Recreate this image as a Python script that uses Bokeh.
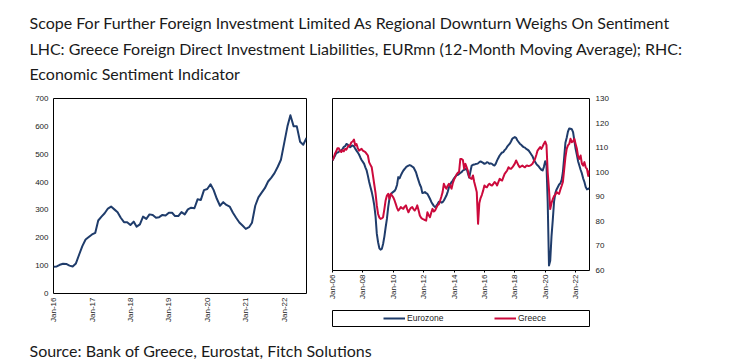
import math
import pandas as pd
from bokeh.plotting import figure
from bokeh.models import (Range1d, FixedTicker, DatetimeTickFormatter, Legend,
                          LegendItem, ColumnDataSource)
from bokeh.layouts import column, row
from bokeh.embed import file_html
from bokeh.resources import INLINE
from bokeh.core.properties import value

# ---------------- data ----------------
title_lines = [
    "Scope For Further Foreign Investment Limited As Regional Downturn Weighs On Sentiment",
    "LHC: Greece Foreign Direct Investment Liabilities, EURmn (12-Month Moving Average); RHC:",
    "Economic Sentiment Indicator",
]
source_line = ["Source: Bank of Greece, Eurostat, Fitch Solutions"]

fdi_start = "2016-01-01"
fdi_eurmn = [
    96, 97, 103, 107, 106, 100, 97, 108, 140, 170, 194, 203,          # 2016
    212, 218, 262, 276, 288, 305, 312, 302, 292, 272, 256, 256,       # 2017
    246, 258, 240, 248, 276, 268, 284, 282, 272, 274, 282, 280,       # 2018
    290, 290, 278, 278, 292, 284, 302, 308, 306, 338, 336, 371,       # 2019
    375, 392, 372, 340, 315, 328, 318, 312, 290, 272, 255, 244,       # 2020
    232, 238, 254, 315, 345, 362, 378, 402, 416, 432, 455, 480,       # 2021
    540, 600, 640, 600, 600, 545, 534, 558,                           # 2022
]

esi_start = "2006-01-01"
eurozone = [
    104.8, 105.8, 106.7, 107.8, 108.0, 108.3, 108.8, 108.9, 109.5, 110.3, 110.6, 111.5,
    111.2, 110.6, 110.2, 110.6, 110.9, 110.5, 109.6, 108.8, 108.0, 107.2, 106.0, 105.0,
    104.2, 103.4, 102.0, 100.7, 98.5, 96.0, 94.0, 92.0, 89.5, 86.5, 82.0, 75.0,
    71.5, 69.0, 68.5, 68.8, 70.8, 73.8, 77.5, 81.0, 85.8, 89.2, 91.0, 91.6,
    92.0, 92.4, 93.2, 94.8, 98.0, 97.5, 98.7, 99.8, 100.7, 101.3, 102.0, 102.4,
    102.7, 102.9, 102.7, 102.3, 102.0, 101.0, 100.0, 98.2, 96.6, 95.0, 93.9, 91.5,
    91.6, 91.9, 91.5, 91.2, 90.2, 89.2, 88.0, 87.1, 86.3, 85.8, 86.3, 87.1,
    88.0, 88.1, 87.6, 87.8, 88.5, 89.5, 90.5, 92.0, 93.9, 95.0, 96.0, 96.6,
    97.5, 98.2, 98.7, 98.9, 99.3, 99.7, 100.0, 100.7, 101.0, 101.2, 101.4, 99.5,
    97.8, 100.5, 102.7, 103.0, 103.1, 103.3, 103.4, 103.6, 104.1, 104.4, 104.1, 103.8,
    103.4, 103.6, 104.1, 103.9, 103.4, 103.6, 103.4, 102.9, 102.7, 103.5, 104.8, 105.8,
    106.8, 107.5, 108.0, 108.2, 109.0, 109.5, 110.4, 111.0, 111.6, 112.5, 113.6, 114.0,
    114.3, 114.0, 113.0, 112.3, 111.6, 111.2, 110.6, 110.2, 110.0, 109.5, 109.2, 108.8,
    108.0, 107.2, 106.5, 105.2, 104.3, 103.4, 102.8, 102.3, 101.6, 101.0, 100.7, 102.2,
    104.5, 103.0, 88.0, 62.0, 64.0, 74.0, 80.5, 88.0, 91.5, 93.0, 94.0, 95.0,
    95.5, 97.0, 100.0, 106.0, 112.0, 114.0, 116.5, 117.8, 117.7, 117.5, 116.3, 113.0,
    109.5, 107.0, 104.5, 102.7, 101.0, 99.5, 97.5, 96.0, 94.0, 93.0, 93.2, 93.6,
]
greece = [
    104.8, 106.0, 107.5, 108.5, 109.8, 109.8, 108.6, 108.2, 109.0, 108.5, 109.5, 109.2,
    110.2, 110.9, 111.0, 112.2, 112.5, 113.3, 110.9, 111.5, 109.8, 108.8, 109.2, 109.5,
    108.8, 108.5, 108.2, 107.5, 106.8, 104.0, 103.0, 102.0, 98.5, 95.0, 91.5, 86.5,
    83.0, 81.5, 81.0, 81.2, 81.7, 85.0, 88.5, 90.5, 91.2, 89.2, 91.2, 90.5,
    89.8, 88.5, 87.1, 85.5, 84.4, 85.0, 85.8, 85.4, 85.1, 86.0, 86.5, 85.0,
    83.7, 84.8, 85.5, 85.8, 85.0, 84.4, 85.2, 86.5, 84.5, 82.4, 81.5, 81.0,
    80.8, 80.5, 80.3, 83.7, 82.5, 81.7, 83.5, 85.1, 84.0, 84.4, 85.5, 86.5,
    87.0, 88.5, 90.0, 91.9, 95.3, 94.0, 93.3, 94.5, 95.3, 94.5, 93.3, 95.5,
    97.0, 98.0, 99.0, 99.8, 100.0, 105.4, 105.4, 105.0, 101.4, 103.4, 102.0, 100.5,
    98.0, 97.5, 97.3, 98.7, 96.0, 94.0, 91.9, 79.0, 87.5, 89.5, 90.8, 92.5,
    94.6, 94.0, 93.9, 94.8, 95.3, 94.8, 94.6, 95.2, 96.0, 95.5, 94.6, 96.0,
    97.3, 96.8, 96.6, 98.0, 99.3, 100.0, 100.7, 102.0, 101.5, 101.4, 102.0, 102.7,
    103.5, 104.8, 103.8, 102.7, 102.0, 102.4, 102.7, 102.3, 102.0, 102.6, 102.7, 102.5,
    102.7, 103.0, 103.4, 104.5, 105.4, 107.0, 108.8, 109.5, 110.2, 109.5, 110.5, 111.6,
    112.5, 111.0, 100.0, 93.0, 85.0, 87.5, 89.0, 90.3, 90.8, 91.9, 91.5, 91.2,
    93.0, 94.5, 96.0, 101.0, 106.0, 109.5, 110.9, 111.5, 113.6, 112.2, 112.5, 113.6,
    111.5, 109.5, 106.5, 105.4, 106.8, 103.5, 102.7, 104.1, 102.0, 101.4, 98.5, 100.7,
]
series_names = ["Eurozone", "Greece"]

left_x_ticks = ["2016-01-01", "2017-01-01", "2018-01-01", "2019-01-01",
                "2020-01-01", "2021-01-01", "2022-01-01"]
right_x_ticks = ["2006-01-01", "2008-01-01", "2010-01-01", "2012-01-01",
                 "2014-01-01", "2016-01-01", "2018-01-01", "2020-01-01", "2022-01-01"]
left_y_ticks = [0, 100, 200, 300, 400, 500, 600, 700]
right_y_ticks = [60, 70, 80, 90, 100, 110, 120, 130]

# ---------------- styling ----------------
NAVY = "#1f3c6b"
RED = "#cc0a3c"
TICK_FONT = "Liberation Sans"
TICK_SIZE = "8px"
TEXT_COLOR = "#1a1a1a"


def ms(d):
    return pd.Timestamp(d).value // 10**6


fdi_dates = pd.date_range(fdi_start, periods=len(fdi_eurmn), freq="MS")
esi_dates = pd.date_range(esi_start, periods=len(eurozone), freq="MS")

fmt = DatetimeTickFormatter(
    years="%b-%y", months="%b-%y", days="%b-%y", hours="%b-%y",
    hourmin="%b-%y", minutes="%b-%y", minsec="%b-%y", seconds="%b-%y",
    milliseconds="%b-%y", microseconds="%b-%y",
)


def style_axis(ax):
    ax.axis_line_color = None
    ax.major_tick_in = 0
    ax.minor_tick_in = 0
    ax.minor_tick_out = 0
    ax.major_label_text_font = TICK_FONT
    ax.major_label_text_font_size = TICK_SIZE
    ax.major_label_text_color = TEXT_COLOR


def text_figure(width, height):
    f = figure(width=width, height=height, title=None,
               x_range=Range1d(0, width), y_range=Range1d(height, 0),
               x_axis_type=None, y_axis_type=None, min_border=0,
               toolbar_location=None, output_backend="svg")
    f.outline_line_color = None
    return f


# ---------------- title ----------------
title_fig = text_figure(746, 90)
title_src = ColumnDataSource(dict(x=[29, 29, 29], y=[22, 48, 73], text=title_lines))
title_fig.text(x="x", y="y", text="text", source=title_src,
               text_font=value("Lato"), text_font_size=value("16px"),
               text_color=TEXT_COLOR, text_baseline="alphabetic", text_align="left")

# ---------------- left chart ----------------
left = figure(width=318, height=243, title=None, x_axis_type="datetime",
              x_range=Range1d(fdi_dates[0], fdi_dates[-1]), y_range=Range1d(0, 700),
              min_border_left=53, min_border_right=12, min_border_top=8,
              min_border_bottom=40, toolbar_location=None, output_backend="svg")
left.grid.visible = False
left.outline_line_color = "black"
left.outline_line_alpha = 1
left.outline_line_width = 1
left.line(fdi_dates, fdi_eurmn, line_color=NAVY, line_width=2, line_join="round")
left.xaxis.ticker = FixedTicker(ticks=[ms(t) for t in left_x_ticks])
left.xaxis.formatter = fmt
left.xaxis.major_label_orientation = math.pi / 2
left.yaxis.ticker = FixedTicker(ticks=left_y_ticks)
for ax in left.xaxis + left.yaxis:
    style_axis(ax)
left.xaxis.major_tick_out = 0
left.yaxis.major_tick_out = 0
left.xaxis.major_label_standoff = 4
left.yaxis.major_label_standoff = 5

# ---------------- right chart ----------------
right = figure(width=428, height=220, title=None, x_axis_type="datetime",
               y_axis_location="right",
               x_range=Range1d(esi_dates[0], esi_dates[-1]), y_range=Range1d(60, 130),
               min_border_left=12, min_border_right=157, min_border_top=8,
               min_border_bottom=40, toolbar_location=None, output_backend="svg")
right.grid.visible = False
right.outline_line_color = "black"
right.outline_line_alpha = 1
right.outline_line_width = 1
right.line(esi_dates, eurozone, line_color=NAVY, line_width=2, line_join="round")
right.line(esi_dates, greece, line_color=RED, line_width=2, line_join="round")
right.xaxis.ticker = FixedTicker(ticks=[ms(t) for t in right_x_ticks])
right.xaxis.formatter = fmt
right.xaxis.major_label_orientation = math.pi / 2
right.yaxis.ticker = FixedTicker(ticks=right_y_ticks)
for ax in right.xaxis + right.yaxis:
    style_axis(ax)
right.xaxis.major_tick_out = 2
right.xaxis.major_tick_line_color = "black"
right.xaxis.major_label_standoff = 2
right.yaxis.major_tick_out = 0
right.yaxis.major_label_standoff = 6

# ---------------- legend (boxed, below right chart) ----------------
legend_fig = figure(width=428, height=23, title=None,
                    x_range=Range1d(0, 1), y_range=Range1d(0, 1),
                    x_axis_type=None, y_axis_type=None,
                    min_border_left=14, min_border_right=155, min_border_top=0,
                    min_border_bottom=7, toolbar_location=None, output_backend="svg")
legend_fig.outline_line_color = "black"
legend_fig.outline_line_alpha = 1
legend_fig.outline_line_width = 1
# legend-only renderers (hidden) carrying the series styles
lg_ez = legend_fig.line(esi_dates, eurozone, line_color=NAVY, line_width=2, visible=False)
lg_gr = legend_fig.line(esi_dates, greece, line_color=RED, line_width=2, visible=False)
legend = Legend(
    items=[LegendItem(label=series_names[0], renderers=[lg_ez]),
           LegendItem(label=series_names[1], renderers=[lg_gr])],
    location=(51, 0), orientation="horizontal", padding=0, margin=0,
    spacing=3, glyph_width=22, glyph_height=16, label_height=16, label_width=84,
    label_standoff=2, label_text_font=TICK_FONT, label_text_font_size="8.5px",
    label_text_color=TEXT_COLOR, border_line_color=None, background_fill_alpha=0,
    inactive_fill_alpha=0,
)
legend_fig.add_layout(legend)

# ---------------- source ----------------
source_fig = text_figure(746, 29)
source_fig.text(x=[29], y=[17], text=source_line, text_font=value("Lato"),
                text_font_size=value("16px"), text_color=TEXT_COLOR,
                text_baseline="alphabetic", text_align="left")

layout = column(title_fig, row(left, column(right, legend_fig)), source_fig)
open("out.html", "w").write(file_html(layout, INLINE))
